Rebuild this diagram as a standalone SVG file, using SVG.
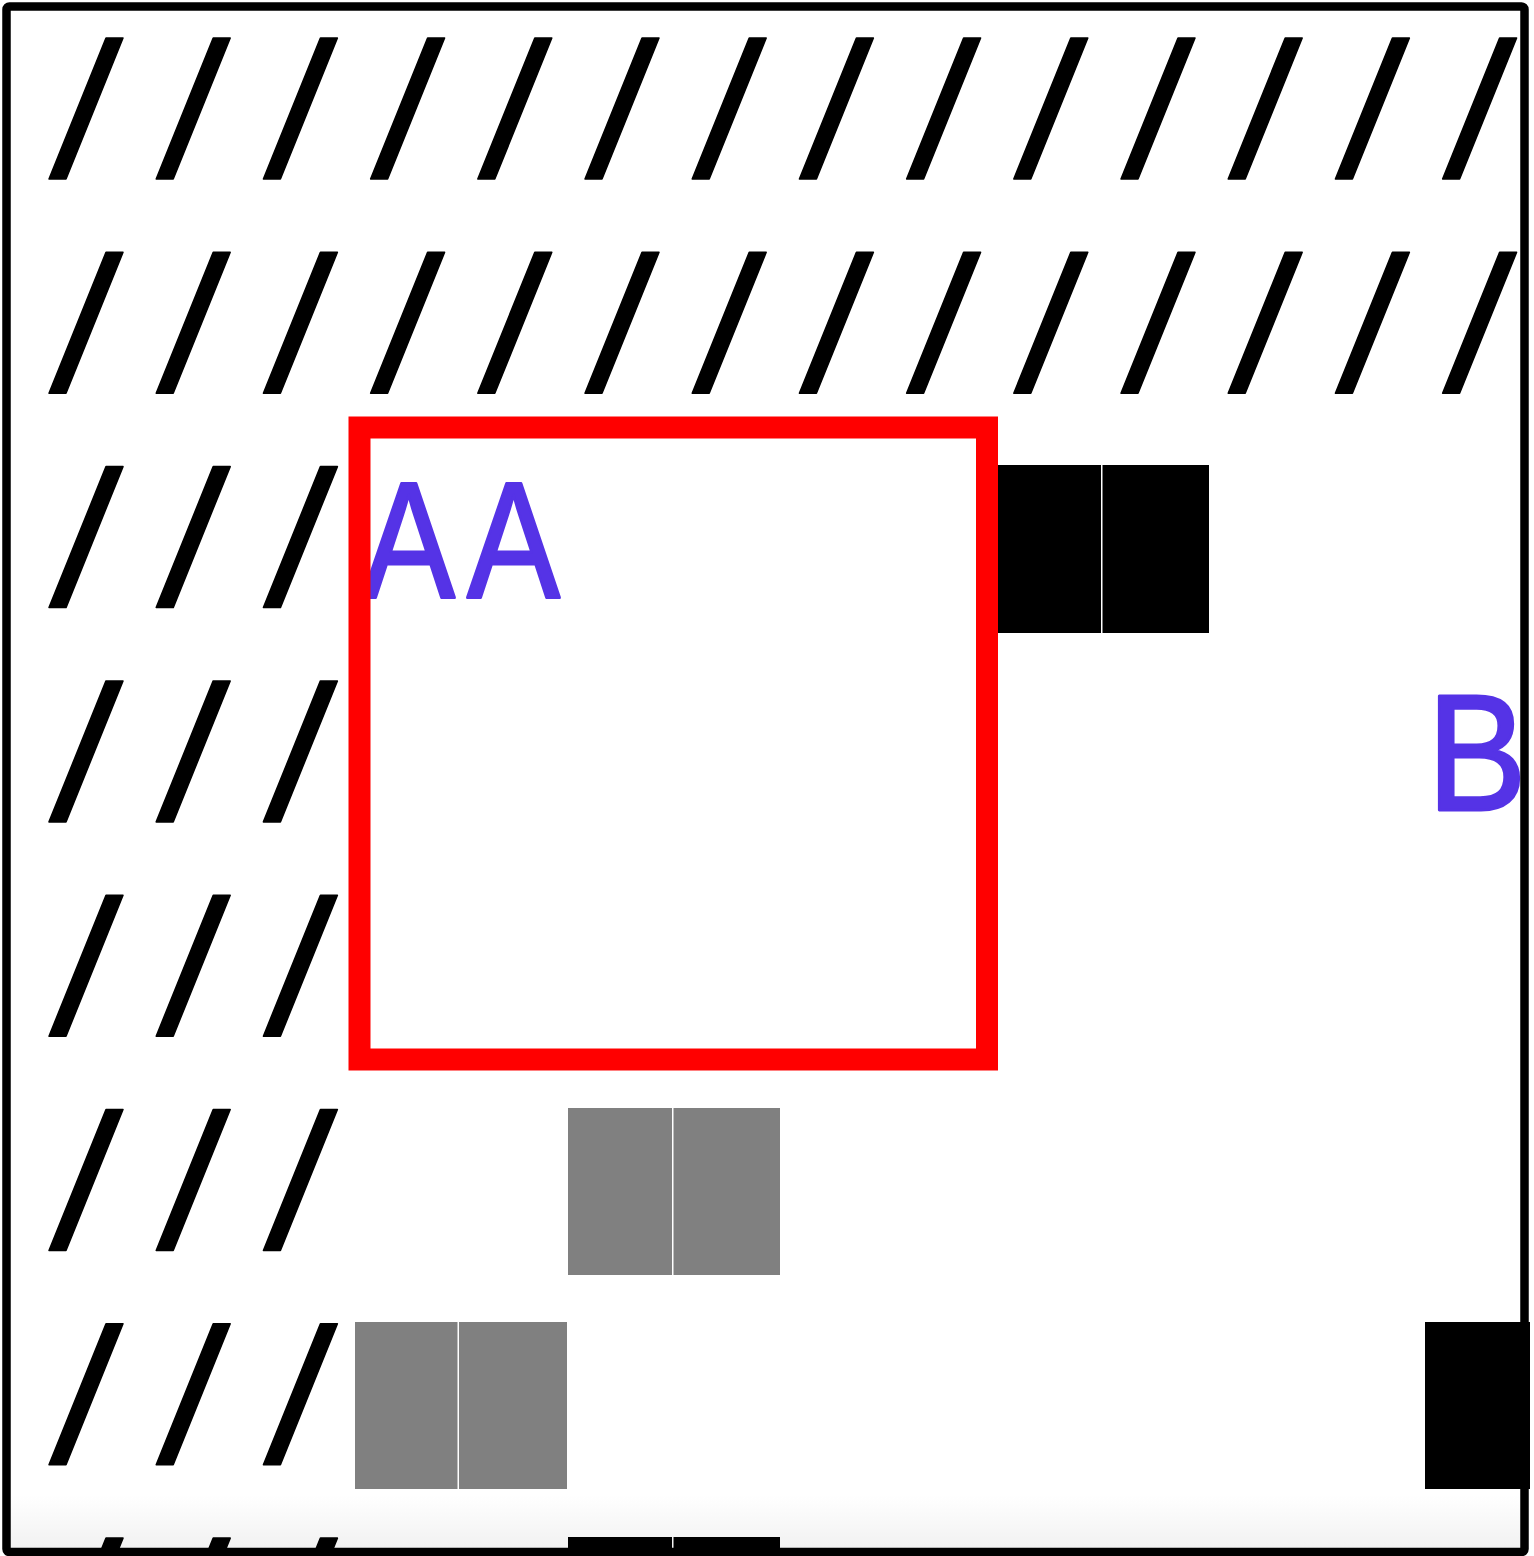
<svg xmlns="http://www.w3.org/2000/svg" xmlns:xlink="http://www.w3.org/1999/xlink" width="1534" height="1556" viewBox="0 0 1534 1556">
  <style>
    .blk { fill: #000000; }
    .gry { fill: #808080; }
    .lbl { font-family: "Liberation Sans", Arial, sans-serif; font-size: 166px; fill: #5533e6; stroke: #5533e6; stroke-width: 3px; stroke-linejoin: round; }
  </style>
  <defs>
    <polygon id="sl" points="106,38 123,38 66,179 49,179" fill="#000" stroke="#000" stroke-width="1.5" stroke-linejoin="round"/>
    <linearGradient id="fade" x1="0" y1="0" x2="0" y2="1">
      <stop offset="0" stop-color="#ffffff"/>
      <stop offset="1" stop-color="#f1f1f1"/>
    </linearGradient>
  </defs>
  <rect x="0" y="0" width="1534" height="1556" fill="#ffffff"/>
  <rect x="10" y="1495" width="1512" height="55" fill="url(#fade)"/>

  <g id="hatch">
    <g id="row0">
      <use xlink:href="#sl" x="0" y="0"/><use xlink:href="#sl" x="107.2" y="0"/><use xlink:href="#sl" x="214.4" y="0"/><use xlink:href="#sl" x="321.6" y="0"/><use xlink:href="#sl" x="428.8" y="0"/><use xlink:href="#sl" x="536" y="0"/><use xlink:href="#sl" x="643.2" y="0"/><use xlink:href="#sl" x="750.4" y="0"/><use xlink:href="#sl" x="857.6" y="0"/><use xlink:href="#sl" x="964.8" y="0"/><use xlink:href="#sl" x="1072" y="0"/><use xlink:href="#sl" x="1179.2" y="0"/><use xlink:href="#sl" x="1286.4" y="0"/><use xlink:href="#sl" x="1393.6" y="0"/>
    </g>
    <g id="row1">
      <use xlink:href="#sl" x="0" y="214.3"/><use xlink:href="#sl" x="107.2" y="214.3"/><use xlink:href="#sl" x="214.4" y="214.3"/><use xlink:href="#sl" x="321.6" y="214.3"/><use xlink:href="#sl" x="428.8" y="214.3"/><use xlink:href="#sl" x="536" y="214.3"/><use xlink:href="#sl" x="643.2" y="214.3"/><use xlink:href="#sl" x="750.4" y="214.3"/><use xlink:href="#sl" x="857.6" y="214.3"/><use xlink:href="#sl" x="964.8" y="214.3"/><use xlink:href="#sl" x="1072" y="214.3"/><use xlink:href="#sl" x="1179.2" y="214.3"/><use xlink:href="#sl" x="1286.4" y="214.3"/><use xlink:href="#sl" x="1393.6" y="214.3"/>
    </g>
    <g id="left-cols">
      <use xlink:href="#sl" x="0" y="428.6"/><use xlink:href="#sl" x="107.2" y="428.6"/><use xlink:href="#sl" x="214.4" y="428.6"/>
      <use xlink:href="#sl" x="0" y="642.9"/><use xlink:href="#sl" x="107.2" y="642.9"/><use xlink:href="#sl" x="214.4" y="642.9"/>
      <use xlink:href="#sl" x="0" y="857.2"/><use xlink:href="#sl" x="107.2" y="857.2"/><use xlink:href="#sl" x="214.4" y="857.2"/>
      <use xlink:href="#sl" x="0" y="1071.5"/><use xlink:href="#sl" x="107.2" y="1071.5"/><use xlink:href="#sl" x="214.4" y="1071.5"/>
      <use xlink:href="#sl" x="0" y="1285.8"/><use xlink:href="#sl" x="107.2" y="1285.8"/><use xlink:href="#sl" x="214.4" y="1285.8"/>
      <use xlink:href="#sl" x="0" y="1500.1"/><use xlink:href="#sl" x="107.2" y="1500.1"/><use xlink:href="#sl" x="214.4" y="1500.1"/>
    </g>
  </g>

  <g id="blocks">
    <g id="block-black-top">
      <rect class="blk" x="998" y="465" width="103" height="168"/>
      <rect class="blk" x="1102.5" y="465" width="106.5" height="168"/>
    </g>
    <g id="block-grey-1">
      <rect class="gry" x="568" y="1108" width="104" height="167"/>
      <rect class="gry" x="673.5" y="1108" width="106.5" height="167"/>
    </g>
    <g id="block-grey-2">
      <rect class="gry" x="355" y="1322" width="102.5" height="167"/>
      <rect class="gry" x="459" y="1322" width="108" height="167"/>
    </g>
    <g id="block-black-right">
      <rect class="blk" x="1425" y="1322" width="105" height="167"/>
    </g>
    <g id="block-black-bottom">
      <rect class="blk" x="568" y="1537" width="104" height="20"/>
      <rect class="blk" x="673.5" y="1537" width="106.5" height="20"/>
    </g>
  </g>

  <g id="label-AA">
    <text class="lbl" transform="translate(362,597) scale(0.84,1)">A</text>
    <text class="lbl" transform="translate(467,597) scale(0.84,1)">A</text>
  </g>
  <g id="label-B">
    <text class="lbl" transform="translate(1427,810) scale(0.9,1)">B</text>
  </g>

  <g id="frame-red">
    <rect x="359.5" y="427.5" width="627.5" height="632" fill="none" stroke="#ff0000" stroke-width="22"/>
  </g>

  <g id="border">
    <rect x="6.5" y="6.5" width="1518" height="1545.5" rx="3" fill="none" stroke="#000000" stroke-width="8.5"/>
  </g>
</svg>
